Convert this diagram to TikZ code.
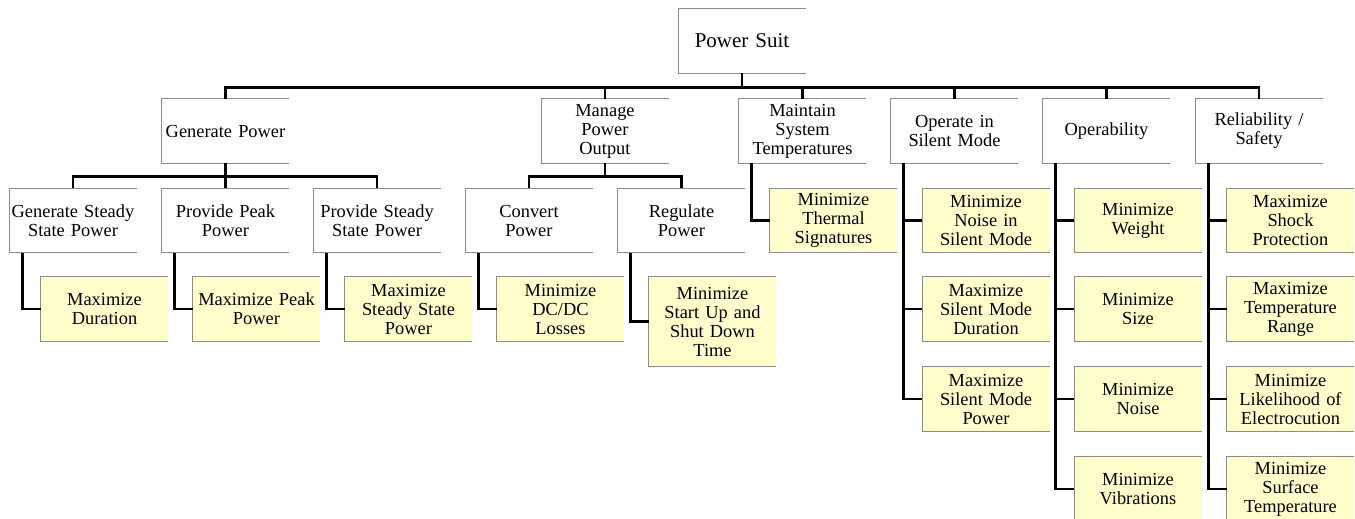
\documentclass[tikz,border=0pt]{standalone}
\usepackage{fontspec}
\setmainfont{Liberation Serif}
\definecolor{goalfill}{HTML}{FFFFCC}
\definecolor{rimgray}{HTML}{8C8C8C}
\tikzset{
  func/.style={minimum width=127pt, minimum height=64pt, inner sep=1pt, text width=125pt, align=center, font=\fontsize{18.4}{19}\selectfont},
  goal/.style={func, fill=goalfill},
  rim/.style={draw=rimgray, line width=1.3pt},
  link/.style={line width=2.9pt, black}
}

\begin{document}
\begin{tikzpicture}[x=1pt,y=-1pt]
\useasboundingbox (0,0) rectangle (1355,519);

% Top
\node[func, minimum width=126pt, font=\fontsize{21}{23}\selectfont] (suit) at (742,41) {Power Suit};

% Functions
\node[func] (gen) at (225.5,131) {Generate Power};
\node[func] (mpo) at (605,131) {Manage\\Power\\Output};
\node[func] (mst) at (802.5,131) {Maintain\\System\\Temperatures};
\node[func] (osm) at (954.5,131) {Operate in\\Silent Mode};
\node[func] (opr) at (1106.5,131) {Operability};
\node[func] (rel) at (1259,131) {Reliability /\\Safety};

% Sub functions
\node[func] (gss) at (73,220.5) {Generate Steady\\State Power};
\node[func] (ppp) at (225.5,220.5) {Provide Peak\\Power};
\node[func] (pss) at (377,220.5) {Provide Steady\\State Power};
\node[func] (cvp) at (529,220.5) {Convert\\Power};
\node[func] (rgp) at (681.5,220.5) {Regulate\\Power};

% Goals
\node[goal] (mdur) at (104.5,309) {Maximize\\Duration};
\node[goal] (mpk) at (256.5,309) {Maximize Peak\\Power};
\node[goal] (mss) at (408.5,309) {Maximize\\Steady State\\Power};
\node[goal] (mdc) at (560.5,309) {Minimize\\DC/DC\\Losses};
\node[goal, minimum height=89pt] (msu) at (712.5,321.5) {Minimize\\Start Up and\\Shut Down\\Time};
\node[goal] (mth) at (833.5,220.5) {Minimize\\Thermal\\Signatures};

\node[goal] (snoi) at (986,220.5) {Minimize\\Noise in\\Silent Mode};
\node[goal] (sdur) at (986,309) {Maximize\\Silent Mode\\Duration};
\node[goal] (spow) at (986,399) {Maximize\\Silent Mode\\Power};

\node[goal] (wgt) at (1138,220.5) {Minimize\\Weight};
\node[goal] (size) at (1138,309) {Minimize\\Size};
\node[goal] (nois) at (1138,399) {Minimize\\Noise};
\node[goal] (vib) at (1138,489) {Minimize\\Vibrations};

\node[goal] (shock) at (1290.5,220.5) {Maximize\\Shock\\Protection};
\node[goal] (trange) at (1290.5,309) {Maximize\\Temperature\\Range};
\node[goal] (elec) at (1290.5,399) {Minimize\\Likelihood of\\Electrocution};
\node[goal] (surf) at (1290.5,489) {Minimize\\Surface\\Temperature};

% Box edges (open on the right)
\foreach \n in {suit,gen,mpo,mst,osm,opr,rel,gss,ppp,pss,cvp,rgp,mdur,mpk,mss,mdc,msu,mth,snoi,sdur,spow,wgt,size,nois,vib,shock,trange,elec,surf}
  \draw[rim] (\n.north east) -- (\n.north west) -- (\n.south west) -- (\n.south east);

% Tree links
\foreach \c in {gen,mpo,mst,osm,opr,rel}
  \draw[link] (suit.south) -- ++(0,14) -| (\c.north);
\foreach \c in {gss,ppp,pss}
  \draw[link] (gen.south) -- ++(0,13) -| (\c.north);
\foreach \c in {cvp,rgp}
  \draw[link] (mpo.south) -- ++(0,13) -| (\c.north);

% Goal links
\foreach \p/\c in {gss/mdur,ppp/mpk,pss/mss,cvp/mdc,rgp/msu,mst/mth,osm/snoi,osm/sdur,osm/spow,opr/wgt,opr/size,opr/nois,opr/vib,rel/shock,rel/trange,rel/elec,rel/surf}
  \draw[link] ([xshift=13pt]\p.south west) |- (\c.west);

\end{tikzpicture}
\end{document}
